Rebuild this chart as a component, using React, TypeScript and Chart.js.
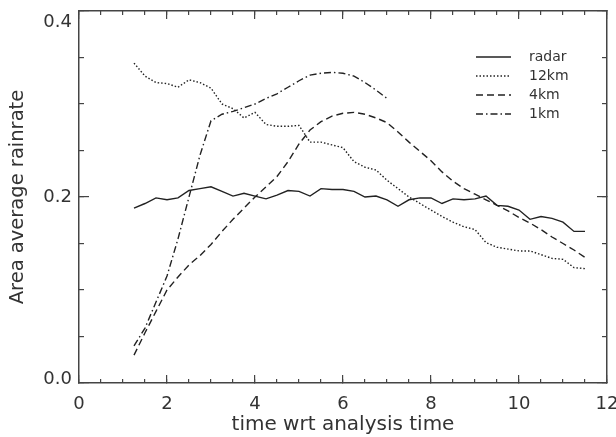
import React, { useEffect, useRef } from 'react';
import { Chart, registerables } from 'chart.js';

Chart.register(...registerables);

const times = [
  1.25, 1.5, 1.75, 2.0, 2.25, 2.5, 2.75, 3.0, 3.25, 3.5, 3.75, 4.0, 4.25, 4.5,
  4.75, 5.0, 5.25, 5.5, 5.75, 6.0, 6.25, 6.5, 6.75, 7.0, 7.25, 7.5, 7.75, 8.0,
  8.25, 8.5, 8.75, 9.0, 9.25, 9.5, 9.75, 10.0, 10.25, 10.5, 10.75, 11.0, 11.25, 11.5,
];

const radar = [
  0.188, 0.193, 0.199, 0.197, 0.199, 0.207, 0.209, 0.211, 0.206, 0.201, 0.204, 0.201, 0.198, 0.202,
  0.207, 0.206, 0.201, 0.209, 0.208, 0.208, 0.206, 0.200, 0.201, 0.197, 0.190, 0.197, 0.199, 0.199,
  0.193, 0.198, 0.197, 0.198, 0.201, 0.191, 0.190, 0.186, 0.176, 0.179, 0.177, 0.173, 0.163, 0.163,
];

const km12 = [
  0.344, 0.330, 0.323, 0.322, 0.318, 0.326, 0.323, 0.317, 0.300, 0.295, 0.285, 0.291, 0.278, 0.276,
  0.276, 0.277, 0.259, 0.259, 0.256, 0.253, 0.238, 0.232, 0.229, 0.218, 0.209, 0.200, 0.193, 0.186,
  0.179, 0.173, 0.168, 0.165, 0.151, 0.146, 0.144, 0.142, 0.142, 0.138, 0.134, 0.133, 0.124, 0.123,
];

const km4 = [
  0.030, 0.054, 0.077, 0.100, 0.114, 0.127, 0.137, 0.149, 0.163, 0.176, 0.188, 0.200, 0.211, 0.222,
  0.238, 0.257, 0.272, 0.281, 0.287, 0.290, 0.291, 0.289, 0.285, 0.280, 0.270, 0.259, 0.249, 0.239,
  0.227, 0.217, 0.209, 0.203, 0.197, 0.191, 0.185, 0.178, 0.172, 0.165, 0.157, 0.150, 0.143, 0.135,
];

const km1 = [
  0.040, 0.059, 0.087, 0.115, 0.155, 0.200, 0.245, 0.282, 0.289, 0.292, 0.296, 0.300, 0.306, 0.311,
  0.318, 0.325, 0.331, 0.333, 0.334, 0.333, 0.330, 0.323, 0.315, 0.306,
];

const seriesLabels = ['radar', '12km', '4km', '1km'];
const xTitle = 'time wrt analysis time';
const yTitle = 'Area average rainrate';

const LINE = '#222222';
const AXIS = '#444444';
const TEXT = '#333333';
const FONT = 'DejaVu Sans';

const dashes: number[][] = [[], [1.5, 2], [7, 4], [7, 3, 1.5, 3]];

const legendPlugin = {
  id: 'insideLegend',
  afterDraw(chart: any) {
    const { ctx, chartArea } = chart;
    const x0 = chartArea.right - 131;
    const x1 = x0 + 35;
    const tx = x0 + 53;
    const y0 = chartArea.top + 46;
    ctx.save();
    chart.data.datasets.forEach((ds: any, i: number) => {
      const y = y0 + i * 19;
      ctx.beginPath();
      ctx.setLineDash(ds.borderDash || []);
      ctx.strokeStyle = ds.borderColor;
      ctx.lineWidth = ds.borderWidth;
      ctx.moveTo(x0, y);
      ctx.lineTo(x1, y);
      ctx.stroke();
      ctx.setLineDash([]);
      ctx.fillStyle = TEXT;
      ctx.font = `14px "${FONT}"`;
      ctx.textAlign = 'left';
      ctx.textBaseline = 'middle';
      ctx.fillText(ds.label, tx, y);
    });
    ctx.restore();
  },
};

function mk(vals: number[]) {
  return vals.map((v, i) => ({ x: times[i], y: v }));
}

function fix(prop: 'width' | 'height', size: number) {
  return (s: any) => {
    s[prop] = size;
    s.paddingTop = 0;
    s.paddingBottom = 0;
    s.paddingLeft = 0;
    s.paddingRight = 0;
  };
}

export default function App() {
  const ref = useRef<HTMLCanvasElement | null>(null);

  useEffect(() => {
    document.body.style.margin = '0';
    const canvas = ref.current;
    if (!canvas) return;
    const allSeries = [radar, km12, km4, km1];
    const tickFont = (size: number) => ({ family: FONT, size });
    const grid = (len: number) => ({
      display: true,
      drawOnChartArea: false,
      drawTicks: true,
      tickLength: -len,
      color: AXIS,
      lineWidth: 1.2,
    });
    const minorAxis = (position: string, min: number, max: number, step: number, len: number, prop: 'width' | 'height') => ({
      type: 'linear',
      position,
      weight: -1,
      min,
      max,
      ticks: { stepSize: step, display: false },
      grid: grid(len),
      border: { display: false },
      afterFit: fix(prop, 0),
    });
    const chart = new Chart(canvas, {
      type: 'line',
      data: {
        datasets: allSeries.map((s, i) => ({
          label: seriesLabels[i],
          data: mk(s),
          borderColor: LINE,
          borderWidth: 1.4,
          borderDash: dashes[i],
          pointRadius: 0,
          tension: 0,
          fill: false,
          xAxisID: 'x',
          yAxisID: 'y',
        })),
      },
      options: {
        animation: false,
        responsive: false,
        layout: { padding: 0 },
        plugins: { legend: { display: false }, tooltip: { enabled: false } },
        scales: {
          x: {
            type: 'linear',
            position: 'bottom',
            min: 0,
            max: 12,
            ticks: { stepSize: 2, font: tickFont(18), color: TEXT, padding: 19, maxRotation: 0 },
            grid: grid(8),
            border: { display: true, color: AXIS, width: 1.5 },
            title: { display: true, text: xTitle, font: tickFont(20), color: TEXT, padding: { top: 0, bottom: 0 } },
            afterFit: fix('height', 54),
          },
          xm: minorAxis('bottom', 0, 12, 0.5, 4, 'height'),
          xt: {
            type: 'linear',
            position: 'top',
            min: 0,
            max: 12,
            ticks: { stepSize: 2, display: false },
            grid: grid(8),
            border: { display: true, color: AXIS, width: 1.5 },
            afterFit: fix('height', 11),
          },
          xtm: minorAxis('top', 0, 12, 0.5, 4, 'height'),
          y: {
            type: 'linear',
            position: 'left',
            min: 0,
            max: 0.4,
            ticks: {
              stepSize: 0.2,
              color: TEXT,
              padding: 17,
              font: (c: any) => ({
                family: FONT,
                size: 18,
                lineHeight: c.tick && Math.abs(c.tick.value) < 1e-6 ? 0.45 : 1.3,
              }),
              callback: (v: any) => {
                const n = Number(v);
                if (Math.abs(n - 0.4) < 1e-6) return ['', n.toFixed(1)];
                if (Math.abs(n) < 1e-6) return [n.toFixed(1), ''];
                return n.toFixed(1);
              },
            },
            grid: grid(10),
            border: { display: true, color: AXIS, width: 1.5 },
            title: { display: true, text: yTitle, font: tickFont(19.5), color: TEXT, padding: { top: 6, bottom: 0 } },
            afterFit: fix('width', 79),
          },
          ym: minorAxis('left', 0, 0.4, 0.05, 5, 'width'),
          yr: {
            type: 'linear',
            position: 'right',
            min: 0,
            max: 0.4,
            ticks: { stepSize: 0.2, display: false },
            grid: grid(10),
            border: { display: true, color: AXIS, width: 1.5 },
            afterFit: fix('width', 9),
          },
          yrm: minorAxis('right', 0, 0.4, 0.05, 5, 'width'),
        },
      } as any,
      plugins: [legendPlugin],
    });
    return () => chart.destroy();
  }, []);

  return (
    <div style={{ position: 'absolute', left: 0, top: 0, width: 616, height: 437, background: '#fff' }}>
      <canvas ref={ref} width={616} height={437} style={{ display: 'block' }} />
    </div>
  );
}
